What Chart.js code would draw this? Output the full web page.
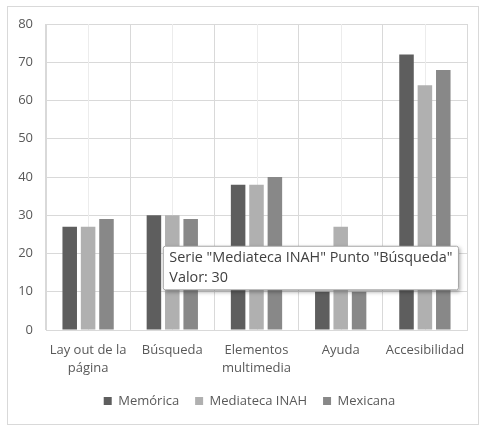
<!DOCTYPE html>
<html><head><meta charset="utf-8">
<script src="https://cdn.jsdelivr.net/npm/chart.js@4.4.0/dist/chart.umd.min.js"></script>
<style>
html,body{margin:0;padding:0;background:#fff;}
#box{position:absolute;left:7px;top:6px;width:470px;height:417px;border:1px solid #d9d9d9;}
canvas{display:block}
</style></head><body>
<div id="box"><canvas id="c" width="470" height="417"></canvas></div>
<script>
const categories = [["Lay out de la","página"], "Búsqueda", ["Elementos","multimedia"], "Ayuda", "Accesibilidad"];
const seriesNames = ["Memórica", "Mediateca INAH", "Mexicana"];
const memorica  = [27, 30, 38, 10, 72];
const mediateca = [27, 30, 38, 27, 64];
const mexicana  = [29, 29, 40, 10, 68];
const yTicks = [0, 10, 20, 30, 40, 50, 60, 70, 80];
const colors = ["#5e5e5e", "#b0b0b0", "#888888"];
const tooltipSeries = 1, tooltipPoint = 1;

const FONT = "'Open Sans', 'DejaVu Sans', sans-serif";
Chart.defaults.font.family = FONT;
Chart.defaults.color = "#595959";

Chart.Tooltip.positioners.excel = function(elements) {
  if (!elements.length) return false;
  const el = elements[0].element;
  return {x: el.x - 7, y: el.y + 31, xAlign: 'left', yAlign: 'top'};
};

const centerLines = {
  id: 'centerLines',
  beforeDatasetsDraw(chart) {
    const xs = chart.scales.x, a = chart.chartArea, ctx = chart.ctx;
    ctx.save();
    ctx.strokeStyle = '#ececec';
    ctx.lineWidth = 1;
    for (let i = 0; i < categories.length; i++) {
      const px = Math.round(xs.getPixelForTick(i)) + 0.5;
      ctx.beginPath(); ctx.moveTo(px, a.top); ctx.lineTo(px, a.bottom); ctx.stroke();
    }
    ctx.restore();
  }
};
const legendShift = {
  id: 'legendShift',
  afterLayout(chart) { if (chart.legend) chart.legend.left += 24; }
};
const tipShadow = {
  id: 'tipShadow',
  beforeTooltipDraw(chart, args) {
    const t = args.tooltip; const ctx = chart.ctx;
    if (!t.opacity) return;
    ctx.save();
    ctx.shadowColor = 'rgba(0,0,0,0.35)';
    ctx.shadowBlur = 4; ctx.shadowOffsetX = 2; ctx.shadowOffsetY = 2;
    ctx.fillStyle = '#fff';
    ctx.fillRect(t.x, t.y, t.width, t.height);
    ctx.restore();
  }
};

const chart = new Chart(document.getElementById('c'), {
  type: 'bar',
  data: {
    labels: categories,
    datasets: [
      {label: seriesNames[0], data: memorica, backgroundColor: colors[0]},
      {label: seriesNames[1], data: mediateca, backgroundColor: colors[1]},
      {label: seriesNames[2], data: mexicana, backgroundColor: colors[2]}
    ]
  },
  options: {
    responsive: false,
    animation: false,
    events: [],
    categoryPercentage: 0.655,
    barPercentage: 0.79,
    layout: {padding: {left: 0, right: 11, top: 17, bottom: 6.5}},
    scales: {
      x: {
        grid: {color: '#d9d9d9', drawTicks: false, offset: true},
        border: {color: '#d9d9d9'},
        ticks: {padding: 11, maxRotation: 0, autoSkip: false, color: '#595959', font: {size: 13, lineHeight: 1.385}},
        afterFit(s) { s.height = 48.5; }
      },
      y: {
        min: 0, max: 80,
        afterBuildTicks(s) { s.ticks = yTicks.map(v => ({value: v})); },
        grid: {color: '#d9d9d9', drawTicks: false},
        border: {display: true, color: '#d9d9d9'},
        ticks: {padding: 13, color: '#595959', font: {size: 13, lineHeight: 0.6}},
        afterFit(s) { s.width = 38; }
      }
    },
    plugins: {
      legend: {
        position: 'bottom',
        labels: {boxWidth: 8, boxHeight: 8, padding: 16, color: '#595959', font: {size: 13}}
      },
      tooltip: {
        enabled: true,
        position: 'excel',
        xAlign: 'left', yAlign: 'top',
        backgroundColor: '#ffffff',
        borderColor: '#a6a6a6',
        borderWidth: 1,
        cornerRadius: 2,
        caretSize: 0, caretPadding: 0,
        displayColors: false,
        padding: {top: 3, bottom: 3, left: 6, right: 6},
        bodyColor: '#404040',
        bodyFont: {size: 14.4, family: FONT},
        bodySpacing: 3,
        callbacks: {
          title: () => '',
          label(ctx) {
            const c = categories[ctx.dataIndex];
            const name = Array.isArray(c) ? c.join(' ') : c;
            return ['Serie "' + ctx.dataset.label + '" Punto "' + name + '"', 'Valor: ' + ctx.parsed.y];
          }
        }
      }
    }
  },
  plugins: [centerLines, legendShift, tipShadow]
});
chart.tooltip.setActiveElements([{datasetIndex: tooltipSeries, index: tooltipPoint}], {x: 0, y: 0});
chart.update();
</script>
</body></html>
